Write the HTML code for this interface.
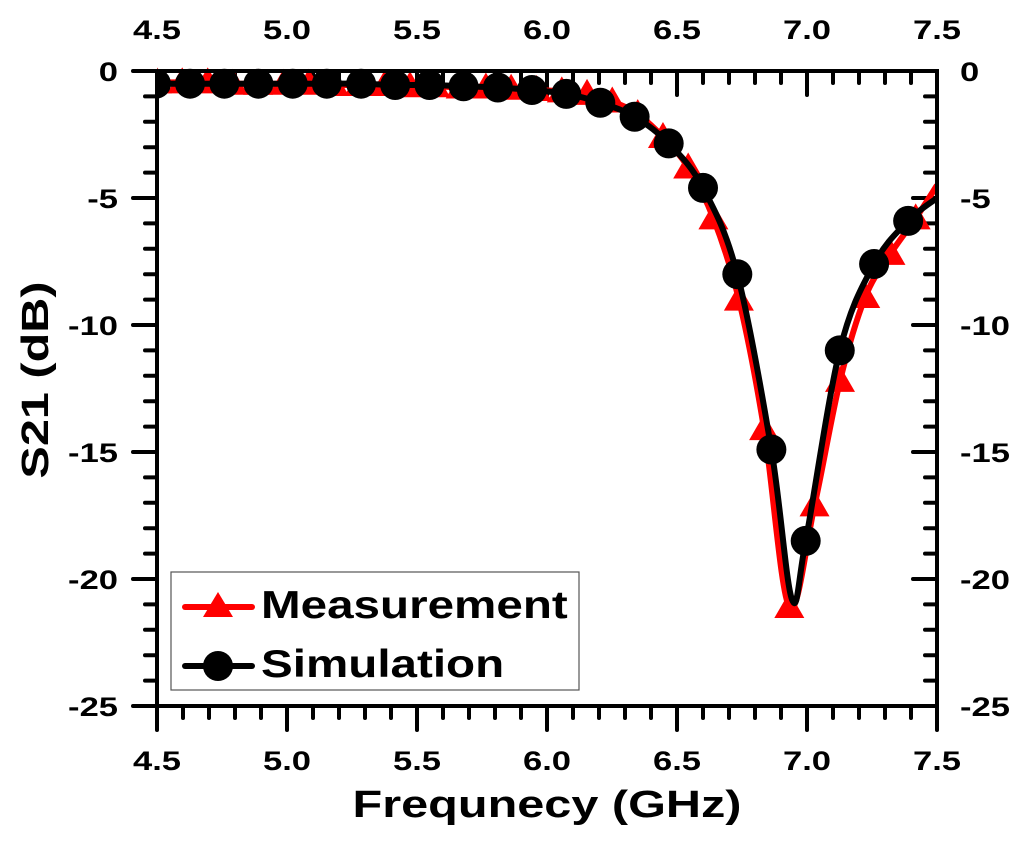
<!DOCTYPE html>
<html><head><meta charset="utf-8"><style>
html,body{margin:0;padding:0;background:#fff;}
svg{display:block;font-family:"Liberation Sans",Arial,sans-serif;font-weight:bold;}
</style></head><body>
<svg id="chart" width="1024" height="844" viewBox="0 0 1024 844"></svg>
<script>
const xTicks = [4.5, 5.0, 5.5, 6.0, 6.5, 7.0, 7.5];
const xTickLabels = ["4.5", "5.0", "5.5", "6.0", "6.5", "7.0", "7.5"];
const yTicks = [0, -5, -10, -15, -20, -25];
const yTickLabels = ["0", "-5", "-10", "-15", "-20", "-25"];
// Measurement (every ~0.0973 GHz from 4.5)
const measFreq = [4.5,4.597,4.695,4.792,4.889,4.987,5.084,5.181,5.278,5.376,5.473,5.570,5.668,5.765,5.862,5.960,6.057,6.154,6.251,6.349,6.446,6.543,6.640,6.738,6.835,6.932,7.029,7.127,7.224,7.321,7.418,7.5];
const measDb = [-0.45,-0.45,-0.45,-0.5,-0.5,-0.5,-0.5,-0.55,-0.55,-0.55,-0.6,-0.6,-0.65,-0.65,-0.7,-0.75,-0.8,-0.9,-1.2,-1.7,-2.6,-3.8,-5.8,-9.0,-14.1,-21.1,-17.1,-12.2,-8.9,-7.2,-5.8,-4.5];
const measMarkIdx = [0,1,2,3,4,5,6,7,8,9,10,11,12,13,14,15,16,17,18,19,20,21,22,23,24,25,26,27,28,29,30];
// Simulation
const simFreq = [4.496,4.627,4.759,4.890,5.022,5.153,5.285,5.416,5.548,5.679,5.811,5.942,6.074,6.205,6.337,6.468,6.600,6.732,6.863,6.942,6.995,7.126,7.258,7.389,7.5];
const simDb = [-0.5,-0.5,-0.5,-0.5,-0.5,-0.5,-0.5,-0.55,-0.55,-0.6,-0.65,-0.75,-0.9,-1.25,-1.8,-2.85,-4.6,-8.0,-14.9,-20.8,-18.5,-11.0,-7.6,-5.9,-5.0];
const simMarkIdx = [0,1,2,3,4,5,6,7,8,9,10,11,12,13,14,15,16,17,18,20,21,22,23];

const NS = "http://www.w3.org/2000/svg";
const svg = document.getElementById('chart');
const L = 157, R = 937, T = 71, B = 706;
const xMin = 4.5, xMax = 7.5, yMin = -25, yMax = 0;
const SX = 1.28;
function sx(v){ return L + (v - xMin) / (xMax - xMin) * (R - L); }
function sy(v){ return T + (yMax - v) / (yMax - yMin) * (B - T); }
function mk(tag, attrs){ const e = document.createElementNS(NS, tag); for (const k in attrs) e.setAttribute(k, attrs[k]); svg.appendChild(e); return e; }

// ticks
for (let i = 0; i <= 30; i++) {
  const v = 4.5 + i * 0.1; const x = sx(v); const major = i % 5 === 0;
  const b = mk('line', {x1:x, y1:B, x2:x, y2:B + (major ? 24 : 12), stroke:'#000', 'stroke-width':4, 'stroke-linecap':'round'});
  
  
  const t = mk('line', {x1:x, y1:T, x2:x, y2:T + (major ? 24 : 12), stroke:'#000', 'stroke-width':4, 'stroke-linecap':'round'});
  
  
}
for (let i = 0; i <= 25; i++) {
  const v = -i; const y = sy(v); const major = i % 5 === 0;
  const l = mk('line', {x1:L, y1:y, x2:L - (major ? 24 : 12), y2:y, stroke:'#000', 'stroke-width':4, 'stroke-linecap':'round'});
  
  
  const r = mk('line', {x1:R, y1:y, x2:R - (major ? 24 : 12), y2:y, stroke:'#000', 'stroke-width':4, 'stroke-linecap':'round'});
  
  
}
function wideText(str, x, y, size, anchor, name, rot){
  const e = mk('text', {x:0, y:0, 'text-anchor':anchor, 'font-size':size,
    transform:'translate(' + x + ',' + y + ')' + (rot ? ' rotate(' + rot + ')' : '') + ' scale(' + SX + ',1)'});
  e.textContent = str;
  
  
  return e;
}
// tick labels
xTicks.forEach((v, i) => {
  wideText(xTickLabels[i], sx(v), 770, 27, 'middle', 'x-tick-label');
  wideText(xTickLabels[i], sx(v), 39, 27, 'middle', 'top-tick-label');
});
yTicks.forEach((v, i) => {
  wideText(yTickLabels[i], 118, sy(v) + 10, 27, 'end', 'y-tick-label');
  wideText(yTickLabels[i], 960, sy(v) + 10, 27, 'start', 'right-tick-label');
});

function smoothPath(xs, ys){
  const p = xs.map((v, i) => [sx(v), sy(ys[i])]);
  let d = 'M' + p[0][0] + ',' + p[0][1];
  for (let i = 0; i < p.length - 1; i++) {
    const p0 = p[Math.max(0, i - 1)], p1 = p[i], p2 = p[i + 1], p3 = p[Math.min(p.length - 1, i + 2)];
    const c1 = [p1[0] + (p2[0] - p0[0]) / 6, p1[1] + (p2[1] - p0[1]) / 6];
    const c2 = [p2[0] - (p3[0] - p1[0]) / 6, p2[1] - (p3[1] - p1[1]) / 6];
    d += ' C' + c1[0] + ',' + c1[1] + ' ' + c2[0] + ',' + c2[1] + ' ' + p2[0] + ',' + p2[1];
  }
  return d;
}
const clip = mk('clipPath', {id:'plotclip'});
const cr = document.createElementNS(NS, 'rect');
cr.setAttribute('x', L); cr.setAttribute('y', T - 20); cr.setAttribute('width', R - L); cr.setAttribute('height', B - T + 20);
clip.appendChild(cr);

const g = mk('g', {'clip-path':'url(#plotclip)'});


function gm(tag, attrs){ const e = document.createElementNS(NS, tag); for (const k in attrs) e.setAttribute(k, attrs[k]); g.appendChild(e); return e; }

const mLine = gm('path', {d:smoothPath(measFreq, measDb), fill:'none', stroke:'#ff0000', 'stroke-width':6, 'stroke-linejoin':'round'});


measMarkIdx.forEach(i => {
  const x = sx(measFreq[i]), y = sy(measDb[i]);
  const t = gm('polygon', {points:(x) + ',' + (y - 15) + ' ' + (x - 15) + ',' + (y + 11) + ' ' + (x + 15) + ',' + (y + 11), fill:'#ff0000'});
  
  
});
const sLine = gm('path', {d:smoothPath(simFreq, simDb), fill:'none', stroke:'#000', 'stroke-width':6, 'stroke-linejoin':'round'});


simMarkIdx.forEach(i => {
  const c = gm('circle', {cx:sx(simFreq[i]), cy:sy(simDb[i]), r:15, fill:'#000'});
  
  
});

// frame
const frame = mk('rect', {x:L, y:T, width:R - L, height:B - T, fill:'none', stroke:'#000', 'stroke-width':4});



// axis titles
wideText('Frequnecy (GHz)', 547, 817, 38, 'middle', 'x-axis-title');
wideText('S21 (dB)', 48, 380, 38, 'middle', 'y-axis-title', -90);

// legend
const lg = mk('g', {});


function lm(tag, attrs){ const e = document.createElementNS(NS, tag); for (const k in attrs) e.setAttribute(k, attrs[k]); lg.appendChild(e); return e; }
const lb = lm('rect', {x:171, y:572, width:408, height:118, fill:'#fff', stroke:'#555', 'stroke-width':1.2});


const l1 = lm('line', {x1:185, y1:607, x2:252, y2:607, stroke:'#ff0000', 'stroke-width':6, 'stroke-linecap':'round'});


const l1m = lm('polygon', {points:'218,592 203,617 233,617', fill:'#ff0000'});


const l1t = lm('text', {x:0, y:0, 'font-size':39, transform:'translate(261,618) scale(1.22,1)'});
l1t.textContent = 'Measurement';


const l2 = lm('line', {x1:185, y1:666, x2:252, y2:666, stroke:'#000', 'stroke-width':6, 'stroke-linecap':'round'});


const l2m = lm('circle', {cx:218, cy:666, r:15, fill:'#000'});


const l2t = lm('text', {x:0, y:0, 'font-size':39, transform:'translate(261,677) scale(1.22,1)'});
l2t.textContent = 'Simulation';


</script>
</body></html>
